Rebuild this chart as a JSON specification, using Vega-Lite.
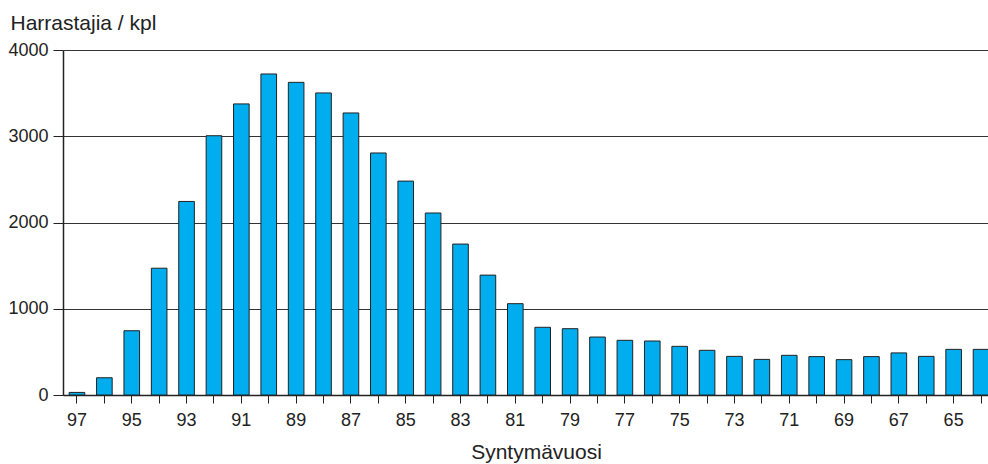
{
  "$schema": "https://vega.github.io/schema/vega-lite/v6.json",
  "autosize": "none",
  "padding": {"left": 63, "top": 50, "right": 0, "bottom": 69},
  "width": 925,
  "height": 345,
  "background": "white",
  "data": {"values": [
    {"year": "97", "n": 30}, {"year": "96", "n": 200}, {"year": "95", "n": 745}, {"year": "94", "n": 1470},
    {"year": "93", "n": 2244}, {"year": "92", "n": 3006}, {"year": "91", "n": 3375}, {"year": "90", "n": 3722},
    {"year": "89", "n": 3625}, {"year": "88", "n": 3502}, {"year": "87", "n": 3270}, {"year": "86", "n": 2806},
    {"year": "85", "n": 2480}, {"year": "84", "n": 2110}, {"year": "83", "n": 1750}, {"year": "82", "n": 1390},
    {"year": "81", "n": 1059}, {"year": "80", "n": 785}, {"year": "79", "n": 769}, {"year": "78", "n": 672},
    {"year": "77", "n": 634}, {"year": "76", "n": 626}, {"year": "75", "n": 564}, {"year": "74", "n": 518},
    {"year": "73", "n": 448}, {"year": "72", "n": 413}, {"year": "71", "n": 460}, {"year": "70", "n": 445},
    {"year": "69", "n": 410}, {"year": "68", "n": 445}, {"year": "67", "n": 488}, {"year": "66", "n": 448},
    {"year": "65", "n": 529}, {"year": "64", "n": 529}
  ]},
  "config": {
    "view": {"stroke": null},
    "font": "Liberation Sans",
    "axis": {"labelFont": "Liberation Sans", "titleFont": "Liberation Sans", "labelColor": "#222", "titleColor": "#222", "titleFontWeight": "normal"}
  },
  "mark": {"type": "bar", "color": "#00ADEF", "stroke": "#222", "strokeWidth": 1},
  "encoding": {
    "x": {
      "field": "year", "type": "nominal", "sort": null,
      "scale": {"paddingInner": 0.43, "paddingOuter": 0.225, "range": [0, 932]},
      "axis": {
        "title": "Syntymävuosi", "titleFontSize": 21, "titlePadding": 12, "titleX": 473,
        "labelAngle": 0, "labelFontSize": 18, "labelPadding": 8,
        "labelExpr": "parseInt(datum.value) % 2 == 1 ? datum.label : ''",
        "tickSize": 8, "tickColor": "#222", "domainColor": "#222", "domainWidth": 1.5
      }
    },
    "y": {
      "field": "n", "type": "quantitative",
      "scale": {"domain": [0, 4000], "nice": false},
      "axis": {
        "values": [0, 1000, 2000, 3000, 4000], "format": "d",
        "title": "Harrastajia / kpl", "titleFontSize": 21, "titleAngle": 0,
        "titleAlign": "left", "titleBaseline": "alphabetic", "titleX": -53, "titleY": -21,
        "labelFontSize": 18, "labelPadding": 5,
        "grid": true, "gridColor": "#333", "gridWidth": 1,
        "tickSize": 10, "tickColor": "#222", "domainColor": "#222", "domainWidth": 1.5
      }
    }
  }
}
